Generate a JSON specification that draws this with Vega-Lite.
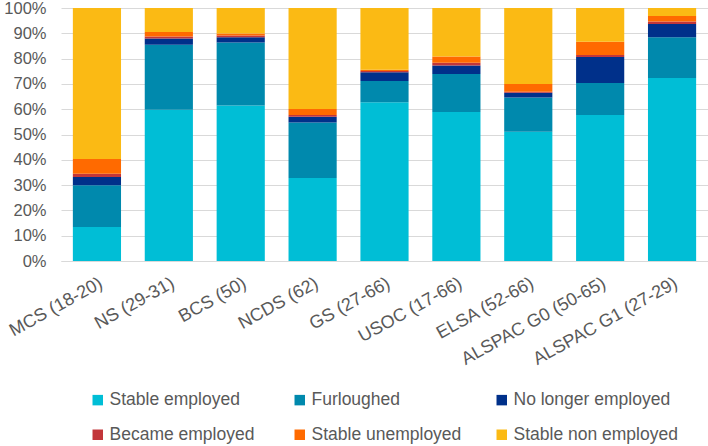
{
  "$schema": "https://vega.github.io/schema/vega-lite/v6.json",
  "width": 647,
  "height": 253,
  "autosize": {"type": "none"},
  "padding": {"left": 61, "top": 8, "right": 0, "bottom": 185},
  "background": "white",
  "config": {
    "view": {"stroke": null},
    "font": "Liberation Sans",
    "axis": {"labelFont": "Liberation Sans", "labelColor": "#595959", "labelFontSize": 16.5},
    "legend": {"labelFont": "Liberation Sans", "labelColor": "#595959", "labelFontSize": 17.5, "labelLimit": 300}
  },
  "data": {"values": [
    {"study": "MCS (18-20)", "status": "Stable employed", "pct": 13.4},
    {"study": "MCS (18-20)", "status": "Furloughed", "pct": 16.5},
    {"study": "MCS (18-20)", "status": "No longer employed", "pct": 3.3},
    {"study": "MCS (18-20)", "status": "Became employed", "pct": 1.3},
    {"study": "MCS (18-20)", "status": "Stable unemployed", "pct": 5.8},
    {"study": "MCS (18-20)", "status": "Stable non employed", "pct": 59.7},
    {"study": "NS (29-31)", "status": "Stable employed", "pct": 59.8},
    {"study": "NS (29-31)", "status": "Furloughed", "pct": 25.7},
    {"study": "NS (29-31)", "status": "No longer employed", "pct": 2.4},
    {"study": "NS (29-31)", "status": "Became employed", "pct": 0.8},
    {"study": "NS (29-31)", "status": "Stable unemployed", "pct": 1.8},
    {"study": "NS (29-31)", "status": "Stable non employed", "pct": 9.5},
    {"study": "BCS (50)", "status": "Stable employed", "pct": 61.5},
    {"study": "BCS (50)", "status": "Furloughed", "pct": 24.9},
    {"study": "BCS (50)", "status": "No longer employed", "pct": 2.0},
    {"study": "BCS (50)", "status": "Became employed", "pct": 0.7},
    {"study": "BCS (50)", "status": "Stable unemployed", "pct": 0.8},
    {"study": "BCS (50)", "status": "Stable non employed", "pct": 10.1},
    {"study": "NCDS (62)", "status": "Stable employed", "pct": 32.8},
    {"study": "NCDS (62)", "status": "Furloughed", "pct": 21.9},
    {"study": "NCDS (62)", "status": "No longer employed", "pct": 2.3},
    {"study": "NCDS (62)", "status": "Became employed", "pct": 0.7},
    {"study": "NCDS (62)", "status": "Stable unemployed", "pct": 2.4},
    {"study": "NCDS (62)", "status": "Stable non employed", "pct": 39.9},
    {"study": "GS (27-66)", "status": "Stable employed", "pct": 62.7},
    {"study": "GS (27-66)", "status": "Furloughed", "pct": 8.4},
    {"study": "GS (27-66)", "status": "No longer employed", "pct": 3.5},
    {"study": "GS (27-66)", "status": "Became employed", "pct": 0.5},
    {"study": "GS (27-66)", "status": "Stable unemployed", "pct": 0.5},
    {"study": "GS (27-66)", "status": "Stable non employed", "pct": 24.4},
    {"study": "USOC (17-66)", "status": "Stable employed", "pct": 58.9},
    {"study": "USOC (17-66)", "status": "Furloughed", "pct": 15.0},
    {"study": "USOC (17-66)", "status": "No longer employed", "pct": 3.4},
    {"study": "USOC (17-66)", "status": "Became employed", "pct": 1.1},
    {"study": "USOC (17-66)", "status": "Stable unemployed", "pct": 2.4},
    {"study": "USOC (17-66)", "status": "Stable non employed", "pct": 19.2},
    {"study": "ELSA (52-66)", "status": "Stable employed", "pct": 51.1},
    {"study": "ELSA (52-66)", "status": "Furloughed", "pct": 13.5},
    {"study": "ELSA (52-66)", "status": "No longer employed", "pct": 1.9},
    {"study": "ELSA (52-66)", "status": "Became employed", "pct": 0.4},
    {"study": "ELSA (52-66)", "status": "Stable unemployed", "pct": 3.1},
    {"study": "ELSA (52-66)", "status": "Stable non employed", "pct": 30.0},
    {"study": "ALSPAC G0 (50-65)", "status": "Stable employed", "pct": 57.7},
    {"study": "ALSPAC G0 (50-65)", "status": "Furloughed", "pct": 12.7},
    {"study": "ALSPAC G0 (50-65)", "status": "No longer employed", "pct": 10.2},
    {"study": "ALSPAC G0 (50-65)", "status": "Became employed", "pct": 0.8},
    {"study": "ALSPAC G0 (50-65)", "status": "Stable unemployed", "pct": 5.3},
    {"study": "ALSPAC G0 (50-65)", "status": "Stable non employed", "pct": 13.3},
    {"study": "ALSPAC G1 (27-29)", "status": "Stable employed", "pct": 72.3},
    {"study": "ALSPAC G1 (27-29)", "status": "Furloughed", "pct": 16.1},
    {"study": "ALSPAC G1 (27-29)", "status": "No longer employed", "pct": 5.3},
    {"study": "ALSPAC G1 (27-29)", "status": "Became employed", "pct": 1.0},
    {"study": "ALSPAC G1 (27-29)", "status": "Stable unemployed", "pct": 2.1},
    {"study": "ALSPAC G1 (27-29)", "status": "Stable non employed", "pct": 3.2}
  ]},
  "transform": [
    {"calculate": "indexof(['Stable employed','Furloughed','No longer employed','Became employed','Stable unemployed','Stable non employed'], datum.status)", "as": "stackOrder"}
  ],
  "mark": {"type": "bar"},
  "encoding": {
    "x": {
      "field": "study", "type": "nominal", "sort": null,
      "scale": {"paddingInner": 0.33, "paddingOuter": 0.165},
      "axis": {"title": null, "labelAngle": -29, "labelAlign": "right", "labelBaseline": "top", "labelPadding": 13, "labelFontSize": 18, "labelLimit": 300, "ticks": false, "domainColor": "#D9D9D9", "domainWidth": 1}
    },
    "y": {
      "field": "pct", "type": "quantitative", "stack": "zero",
      "scale": {"domain": [0, 100]},
      "axis": {"title": null, "values": [0,10,20,30,40,50,60,70,80,90,100], "labelExpr": "datum.value + '%'", "ticks": false, "domain": false, "gridColor": "#D9D9D9", "labelPadding": 15}
    },
    "order": {"field": "stackOrder", "type": "quantitative", "sort": "ascending"},
    "color": {
      "field": "status", "type": "nominal",
      "sort": ["Stable employed", "Furloughed", "No longer employed", "Became employed", "Stable unemployed", "Stable non employed"],
      "scale": {
        "domain": ["Stable employed", "Furloughed", "No longer employed", "Became employed", "Stable unemployed", "Stable non employed"],
        "range": ["#00BED6", "#0089AD", "#00308A", "#C2363A", "#FF6A00", "#FBBA14"]
      },
      "legend": {
        "title": null, "orient": "none", "legendX": 28, "legendY": 383,
        "direction": "horizontal",
        "columns": 3, "gridAlign": "all", "columnPadding": 17, "rowPadding": 16,
        "symbolType": "square", "symbolSize": 110, "symbolStrokeWidth": 0, "labelOffset": 3
      }
    }
  }
}
